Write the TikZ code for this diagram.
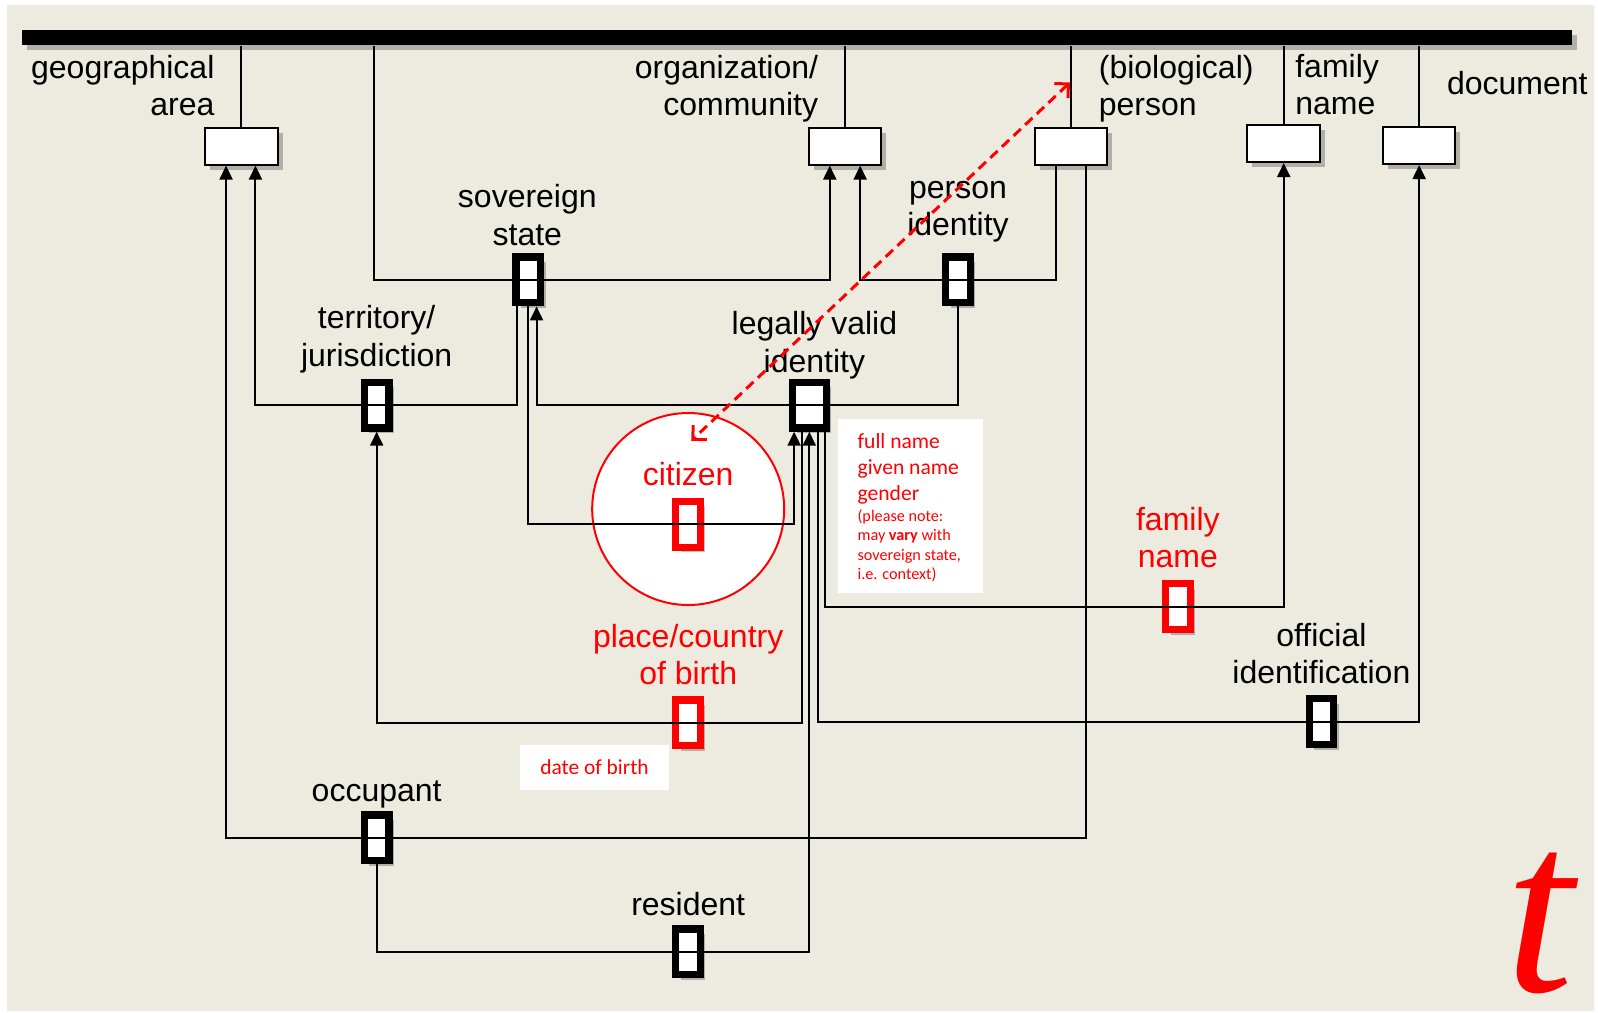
\documentclass[tikz,border=0pt]{standalone}
\usepackage{fontspec}
\setmainfont{Liberation Sans}
\newfontfamily\notefont{Carlito}
\newfontfamily\tfont{Liberation Serif}
\usetikzlibrary{arrows.meta,shadows,calc}
\definecolor{bgbeige}{RGB}{237,234,224}
\definecolor{redx}{RGB}{255,0,0}
\begin{document}
\begin{tikzpicture}[x=0.509pt,y=-0.509pt,
  shad/.style={drop shadow={shadow xshift=2.5pt,shadow yshift=-2.5pt,opacity=0.25,fill=black}},
  entity/.style={draw=black,fill=white,line width=1pt,minimum width=36.3pt,minimum height=18.5pt,inner sep=0pt,shad},
  rel/.style={draw=black,fill=white,line width=3.6pt,minimum width=12.3pt,minimum height=22.9pt,inner sep=0pt,shad},
  relred/.style={rel,draw=redx},
  conn/.style={line width=1pt,draw=black},
  arrowend/.style={-{Triangle[width=6.5pt,length=7pt]}},
  arrowstart/.style={{Triangle[width=6.5pt,length=7pt]}-},
  lab/.style={font=\fontsize{16}{18.8}\selectfont,align=center,inner sep=0pt},
  labred/.style={lab,text=redx}
]
\useasboundingbox (0,0) rectangle (1569.7,994.1);
\fill[white] (0,0) rectangle (1569.7,994.1);
\fill[bgbeige] (7,5) rectangle (1566,993);

% top bar
\node[fill=black,minimum width=775pt,minimum height=7.6pt,inner sep=0pt,shad] (bar) at (783,37) {};

% red circle
\node[circle,draw=redx,fill=white,line width=1pt,minimum size=96pt,inner sep=0pt] (circ) at (676,500) {};

% entity boxes
\node[entity] (geo) at (237,143.5) {};
\node[entity] (org) at (830,143.5) {};
\node[entity] (per) at (1052,143.5) {};
\node[entity] (fam) at (1261,141) {};
\node[entity] (doc) at (1394,143) {};

% relationship boxes
\node[rel] (sov) at (519,275) {};
\node[rel] (pid) at (941,275) {};
\node[rel] (ter) at (370,398) {};
\node[rel,minimum width=17pt] (lvi) at (795,398) {};
\node[relred] (cit) at (676,515) {};
\node[relred] (fnm) at (1157,596) {};
\node[relred] (pob) at (676,710) {};
\node[rel] (oid) at (1298,709) {};
\node[rel] (occ) at (370,823) {};
\node[rel] (res) at (676,935) {};

% lines from bar to entities
\draw[conn] (bar.south -| geo.north) -- (geo.north);
\draw[conn] (bar.south -| org.north) -- (org.north);
\draw[conn] (bar.south -| per.north) -- (per.north);
\draw[conn] (bar.south -| fam.north) -- (fam.north);
\draw[conn] (bar.south -| doc.north) -- (doc.north);

% connectors
\draw[conn,arrowend] (bar.south -| 367,0) |- (sov.center) -| ([xshift=-7.6pt]org.south);
\draw[conn,arrowstart] ([xshift=7.6pt]org.south) |- (pid.center) -| ([xshift=-7.6pt]per.south);
\draw[conn,arrowstart] ([xshift=7.1pt]geo.south) |- (ter.center) -| ([xshift=-5.6pt]sov.south);
\draw[conn,arrowstart] ([xshift=4.1pt]sov.south) |- (lvi.center) -| (pid.south);
\draw[conn,arrowend] (sov.south) |- (cit.center) -| ([xshift=-7.6pt]lvi.south);
\draw[conn,arrowstart] (fam.south) |- (fnm.center) -| ([xshift=7.6pt]lvi.south);
\draw[conn,arrowstart] (ter.south) |- (pob.center) -| ([xshift=-3.6pt]lvi.south);
\draw[conn,arrowend] ([xshift=4.1pt]lvi.south) |- (oid.center) -| (doc.south);
\draw[conn,arrowstart] ([xshift=-7.6pt]geo.south) |- (occ.center) -| ([xshift=7.6pt]per.south);
\draw[conn,arrowend] (occ.south) |- (res.center) -| (lvi.south);

% labels
\node[lab,align=right,anchor=east] (geol) at (211,84) {geographical\\area};
\node[lab,align=right,anchor=east] (orgl) at (804,87) {organization/\\community};
\node[lab,align=left,anchor=west] (perl) at (1079,87) {(biological)\\person};
\node[lab,align=left,anchor=west] (faml) at (1272,83) {family\\name};
\node[lab,anchor=west] (docl) at (1421,82) {document};
\node[lab] (sovl) at (518,211) {sovereign\\state};
\node[lab] (pidl) at (941,208) {person\\identity};
\node[lab] (terl) at (370,333) {territory/\\jurisdiction};
\node[lab] (lvil) at (800,339) {legally valid\\identity};
\node[labred] (citl) at (676,466) {citizen};
\node[labred] (fnml) at (1157,528) {family\\name};
\node[labred] (pobl) at (676,643) {place/country\\of birth};
\node[lab] (oidl) at (1298,642) {official\\identification};
\node[lab] (occl) at (370,780) {occupant};
\node[lab] (resl) at (676,888) {resident};

% notes
\node[fill=white,minimum width=72.4pt,minimum height=87pt,inner sep=0pt,anchor=north west] (notebox) at (823,411) {};
\node[text=redx,font=\notefont\fontsize{10.8}{13}\selectfont,align=left,anchor=west,inner sep=0pt] (note1) at (842,461) {full name\\given name\\gender};
\node[text=redx,font=\notefont\fontsize{8.1}{9.7}\selectfont,align=left,anchor=west,inner sep=0pt] (note2) at (842,536) {(please note:\\may \textbf{vary} with\\sovereign state,\\i.e. context)};
\node[fill=white,text=redx,font=\notefont\fontsize{10.7}{12}\selectfont,minimum width=74.8pt,minimum height=22.5pt,inner sep=0pt] (dob) at (584,754) {date of birth};

% red dashed double arrow
\coordinate (dA) at (1051,81);
\coordinate (dB) at (679,433);
\draw[redx,line width=1.5pt,dash pattern=on 5pt off 3pt,{Straight Barb[length=5pt,width=10pt]}-{Straight Barb[length=5pt,width=10pt]}] (dA) -- (dB);

% big t
\node[text=redx,font=\tfont\itshape\fontsize{123}{123}\selectfont,inner sep=5pt,anchor=base] (tee) at (1512,974) {t};
\end{tikzpicture}
\end{document}
